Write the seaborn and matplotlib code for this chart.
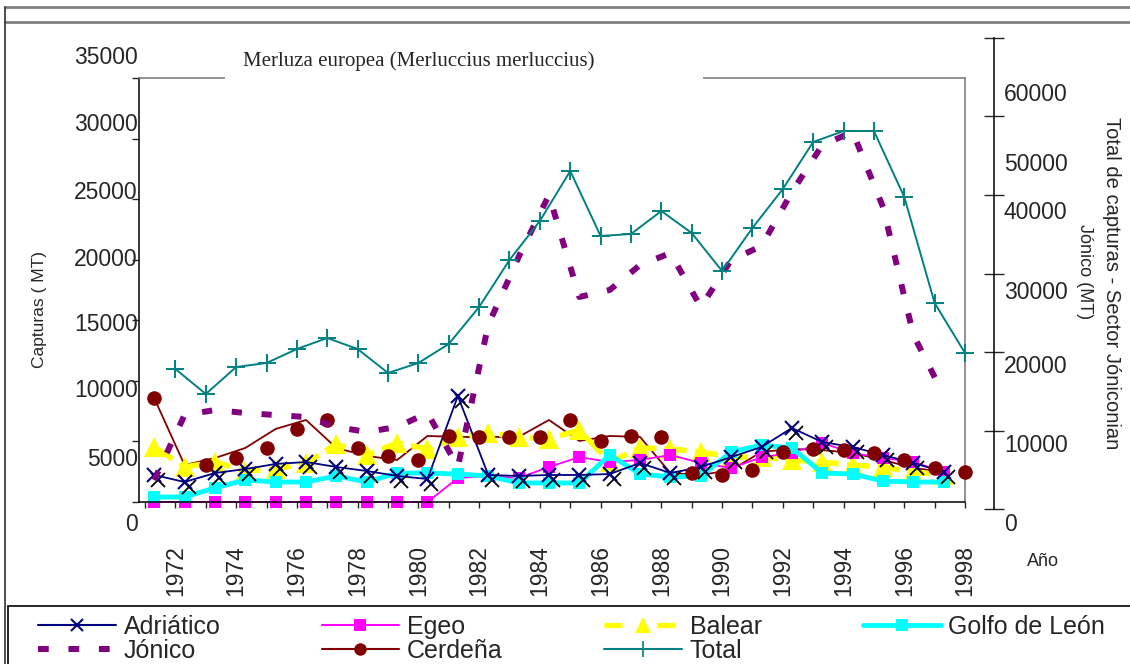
import numpy as np
import seaborn as sns
import matplotlib
matplotlib.use("Agg")
import matplotlib.pyplot as plt
from matplotlib.lines import Line2D
from matplotlib.patches import Rectangle
from matplotlib.transforms import ScaledTranslation

# data (MT)
YEARS = np.arange(1972, 1999)
ADRIATICO = [2230, 1650, 2390, 2720, 3140, 3300, 2890, 2560, 2150, 1900, 8750, 2230, 2150, 2230,
             2230, 2310, 3220, 2390, 2890, 3710, 4540, 6110, 4950, 4540, 3880, 3220, 2480]
EGEO = [0, 0, 0, 0, 0, 0, 0, 0, 0, 0, 1980, 2150, 1980, 2890,
        3710, 3300, 3470, 3880, 3220, 2800, 3700, 4050, 4870, 4040, 3630, 3300, 2480]
BALEAR = [4540, 2890, 3300, 2560, 2720, 3220, 4790, 3880, 4870, 4380, 5370, 5700, 5370, 5200,
          5940, 3300, 4460, 4380, 4130, 3710, 3710, 3470, 3300, 3050, 2890, 2480, 2230]
GOLFO_LEON = [410, 410, 1160, 1820, 1650, 1650, 2150, 1650, 2390, 2390, 2310, 2150, 1570, 1570,
              1570, 3880, 2310, 2060, 2150, 4130, 4700, 4460, 2390, 2310, 1730, 1650, 1650]
CERDENA = [8580, 3050, 3630, 4460, 6030, 6770, 4460, 3800, 3470, 5450, 5370, 5370, 5370, 6770,
           5040, 5450, 5370, 2390, 2230, 2640, 4130, 4380, 4290, 4040, 3470, 2810, 2480]
# right axis series
JONICO = [3690, 11970, 12610, 12230, 11970, 11720, 10450, 9810, 10450, 12230, 5350, 23440, 32100, 40000,
          27010, 27900, 31080, 32610, 25730, 31720, 33500, 40380, 46370, 48030, 38470, 22170, 14520]
TOTAL = [17830, 14650, 18090, 18600, 20380, 21780, 20380, 17330, 18600, 21020, 25730, 31720, 36690, 43060,
         34780, 35030, 37960, 35160, 30320, 35800, 40760, 46750, 48150, 48150, 39750, 26240, 19870]

LEFT_TICKS = np.arange(0, 35001, 5000)
RIGHT_TICKS = np.arange(0, 60001, 10000)

# regional series sit between category ticks in the original workbook
SHIFT = 0.7

NAVY, MAGENTA, YELLOW, CYAN = "#000080", "#FF00FF", "#FFFF00", "#00FFFF"
PURPLE, DARKRED, TEAL = "#800080", "#800000", "#008080"

sns.set_style("white")
plt.rcParams["font.family"] = ["Liberation Sans", "DejaVu Sans"]

W, H = 1130, 664
fig = plt.figure(figsize=(W / 100, H / 100), dpi=100)


def box(x0, y0, x1, y1):
    return [x0 / W, 1 - y1 / H, (x1 - x0) / W, (y1 - y0) / H]


ax = fig.add_axes(box(139, 78, 965, 502))
ax2 = fig.add_axes(box(139, 38, 965, 509), sharex=ax)
ax2.patch.set_visible(False)

xr = YEARS - SHIFT
sns.lineplot(x=xr, y=CERDENA, ax=ax, color=DARKRED, lw=1.3, clip_on=False)
cer_mark_x = np.r_[xr[0], YEARS[1:]]
sns.scatterplot(x=cer_mark_x, y=CERDENA, ax=ax, color=DARKRED, s=110, linewidth=0, clip_on=False, zorder=3)
sns.lineplot(x=xr, y=BALEAR, ax=ax, color=YELLOW, lw=4, linestyle=(0, (4, 1.5)),
             marker="^", markersize=14, markeredgewidth=0, clip_on=False)
sns.lineplot(x=xr, y=EGEO, ax=ax, color=MAGENTA, lw=1.3, marker="s", markersize=9,
             markeredgewidth=0, clip_on=False)
sns.lineplot(x=xr, y=GOLFO_LEON, ax=ax, color=CYAN, lw=3.5, marker="s", markersize=9,
             markeredgewidth=0, clip_on=False)
shadow = ax.transData + ScaledTranslation(4 / 100, -5 / 100, fig.dpi_scale_trans)
ax.plot(xr, ADRIATICO, ls="none", marker="x", ms=10, mew=1.3, color="black", transform=shadow, clip_on=False)
sns.lineplot(x=xr, y=ADRIATICO, ax=ax, color=NAVY, lw=1.3, marker="x", markersize=10,
             markeredgewidth=1.5, markeredgecolor=NAVY, clip_on=False)

sns.lineplot(x=xr, y=JONICO, ax=ax2, color=PURPLE, lw=4.3, linestyle=(0, (1.7, 3.3)),
             dash_capstyle="butt", clip_on=False)
sns.lineplot(x=YEARS, y=TOTAL, ax=ax2, color=TEAL, lw=1.4, marker="+", markersize=13,
             markeredgewidth=1.4, markeredgecolor=TEAL, clip_on=False)

ax.set_xlim(1970.8, 1998)
ax.set_ylim(0, 35000)
ax.set_yticks(LEFT_TICKS, [str(v) for v in LEFT_TICKS])
ticks_x = np.arange(1971, 1999)
ax.set_xticks(ticks_x, [str(y) if y % 2 == 0 else "" for y in ticks_x])
ax.tick_params(axis="y", direction="out", length=5, width=1, labelsize=16.5, pad=-4, left=True)
ax.tick_params(axis="x", direction="out", length=4, width=1, labelsize=16.5, pad=27,
               rotation=90, bottom=True)
ax.set_xlabel("")
ax.set_ylabel("Capturas ( MT)", fontsize=12.5)
ax.yaxis.set_label_coords(-0.111, 0.453)
for side in ["top", "right"]:
    ax.spines[side].set_color("#808080")
    ax.spines[side].set_linewidth(1.2)
for side in ["left", "bottom"]:
    ax.spines[side].set_color("black")
    ax.spines[side].set_linewidth(1.1)

ax2.set_ylim(0, 60000)
ax2.yaxis.tick_right()
ax2.set_yticks(RIGHT_TICKS, [str(v) for v in RIGHT_TICKS])
ax2.tick_params(axis="y", direction="inout", length=14, width=1, labelsize=16.5, pad=0, right=True)
ax2.tick_params(axis="x", bottom=False, labelbottom=False)
ax2.set_xlabel("")
ax2.set_ylabel("")
for side in ["left", "top", "bottom"]:
    ax2.spines[side].set_visible(False)
ax2.spines["right"].set_position(("outward", 21))
ax2.spines["right"].set_color("black")
ax2.spines["right"].set_linewidth(1.1)

# outer frame of the exported sheet
gray = "#808080"
fig.add_artist(Line2D([5 / W, 1], [1 - 7 / H] * 2, color=gray, lw=2))
fig.add_artist(Line2D([5 / W, 1], [1 - 22 / H] * 2, color=gray, lw=2))
fig.add_artist(Line2D([5 / W, 5 / W], [1 - 7 / H, 0], color="#303030", lw=1.2))
fig.add_artist(Rectangle((8 / W, -0.02), 1.0, 1 - 606 / H + 0.02, transform=fig.transFigure,
                         fill=False, edgecolor="black", lw=1.2, zorder=2))

# title sits on a white box that hides the plot-area border
fig.add_artist(Rectangle((225 / W, 1 - 84 / H), 478 / W, 46 / H, transform=fig.transFigure,
                         facecolor="white", edgecolor="none", zorder=3))
fig.text(243 / W, 1 - 61 / H, "Merluza europea (Merluccius merluccius)", family="Liberation Serif",
         fontsize=15, ha="left", va="center", zorder=4)

fig.text(1043 / W, 1 - 561 / H, "Año", ha="center", va="center", fontsize=13)
fig.text(1112 / W, 1 - 283 / H, "Total de capturas - Sector Jóniconian", rotation=-90,
         ha="center", va="center", fontsize=14.5)
fig.text(1084 / W, 1 - 272 / H, "Jónico (MT)", rotation=-90, ha="center", va="center", fontsize=13)

handles = [
    Line2D([], [], color=NAVY, lw=1.5, marker="x", ms=8, mew=1.5),
    Line2D([], [], color=PURPLE, lw=4.3, linestyle=(0, (1.8, 3.3)), dash_capstyle="butt"),
    Line2D([], [], color=MAGENTA, lw=1.5, marker="s", ms=9, mew=0),
    Line2D([], [], color=DARKRED, lw=1.5, marker="o", ms=9, mew=0),
    Line2D([], [], color=YELLOW, lw=3.8, linestyle=(0, (3.4, 6.6)), marker="^", ms=12, mew=0),
    Line2D([], [], color=TEAL, lw=1.5, marker="+", ms=12, mew=1.2),
    Line2D([], [], color=CYAN, lw=3.5, marker="s", ms=9, mew=0),
]
labels = ["Adriático", "Jónico", "Egeo", "Cerdeña", "Balear", "Total", "Golfo de León"]
fig.legend(handles, labels, loc="upper left", bbox_to_anchor=(38 / W, 1 - 615 / H), ncol=4,
           frameon=False, fontsize=18, handlelength=3.1, handletextpad=0.32, columnspacing=4.05,
           labelspacing=0.0, borderpad=0, borderaxespad=0)

# the exported tick labels drift away from their ticks; reproduce the offsets
fig.canvas.draw()
left_shift = [20, 15.6, 7.1, 1.7, -2.7, -9.1, -16.6, -23]
right_shift = [13, 12.5, 12, 16.5, 15, 45.5, 54]
for lab, dy in zip(ax.get_yticklabels(), left_shift):
    lab.set_transform(lab.get_transform() + ScaledTranslation(0, -dy / 100, fig.dpi_scale_trans))
for lab, dy in zip(ax2.get_yticklabels(), right_shift):
    lab.set_transform(lab.get_transform() + ScaledTranslation(0, -dy / 100, fig.dpi_scale_trans))

fig.savefig("out.png", dpi=100)
plt.close(fig)
